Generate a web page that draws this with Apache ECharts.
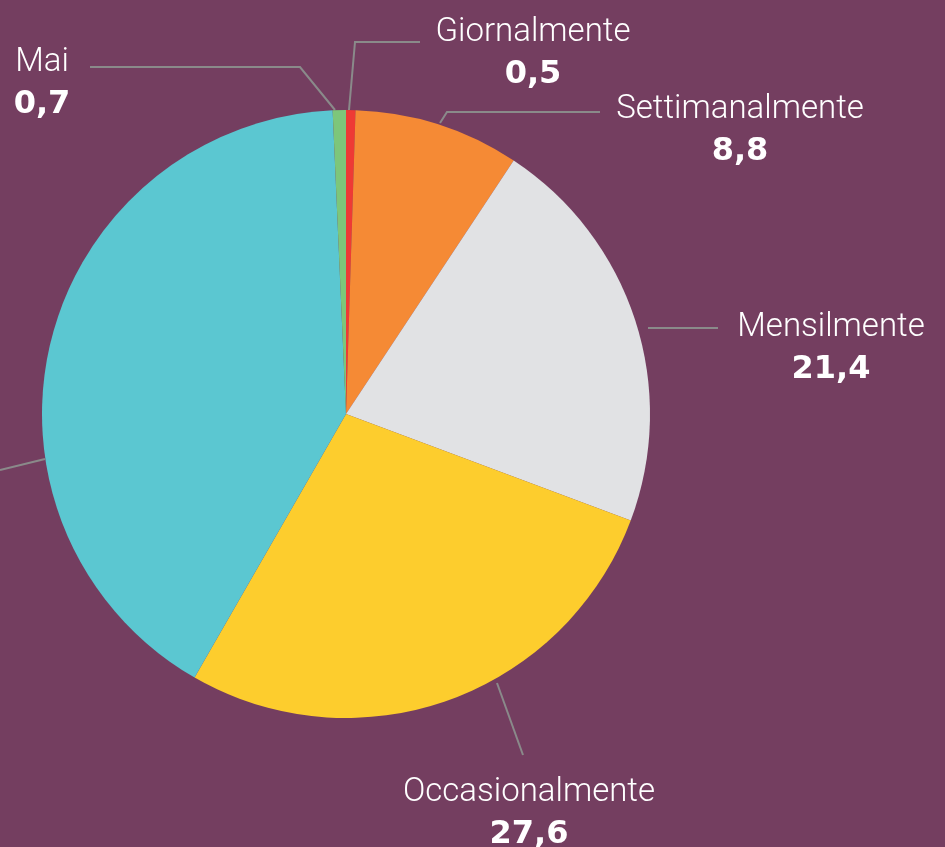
<!DOCTYPE html>
<html lang="it">

<head>
    <meta charset="UTF-8">
    <title>Frequenza</title>
    <style>
        * {
            margin: 0;
            padding: 0;
            box-sizing: border-box;
        }

        html,
        body {
            width: 100%;
            height: 100%;
            background: #743e60;
        }

        .box {
            width: 945px;
            height: 847px;
        }
    </style>
</head>

<body>
    <div class="box"></div>
</body>
<script src="https://cdn.jsdelivr.net/npm/echarts@6/dist/echarts.min.js"></script>
<script>
    // dati
    const categories = ['Giornalmente', 'Settimanalmente', 'Mensilmente', 'Occasionalmente', 'Raramente', 'Mai']
    const values = [0.5, 8.8, 21.4, 27.6, 41.0, 0.7]
    const colors = ['#ee3a35', '#f58a35', '#e1e2e4', '#fdcd2d', '#5bc7d1', '#7dc67a']

    // posizione etichette e linee guida (x centro, y alto, punti linea)
    const labelPos = [
        { x: 533, y: 12, line: [[349, 110], [355, 42], [420, 42]] },
        { x: 740, y: 89, line: [[440, 123], [447, 112], [600, 112]] },
        { x: 831, y: 307, line: [[648, 328], [718, 328]] },
        { x: 529, y: 772, line: [[497, 683], [523, 755]] },
        { x: -140, y: 440, line: [[45, 459], [0, 470]] },
        { x: 42, y: 42, line: [[335, 110], [300, 67], [90, 67]] }
    ]

    let chart = echarts.init(document.querySelector('.box'))

    const option = {
        backgroundColor: '#743e60',
        animation: false,
        series: [{
            type: 'pie',
            center: [346, 414],
            radius: 304,
            startAngle: 90,
            clockwise: true,
            avoidLabelOverlap: false,
            itemStyle: {
                borderWidth: 0
            },
            label: {
                show: true,
                position: 'outside',
                formatter: function (p) {
                    return '{n|' + p.name + '}\n{v|' + p.value.toFixed(1).replace('.', ',') + '}'
                },
                rich: {
                    n: {
                        fontFamily: 'Roboto',
                        fontWeight: 300,
                        fontSize: 33,
                        color: '#fff',
                        lineHeight: 42,
                        align: 'center'
                    },
                    v: {
                        fontFamily: 'DejaVu Sans',
                        fontWeight: 'bold',
                        fontSize: 32,
                        color: '#fff',
                        lineHeight: 42,
                        align: 'center'
                    }
                }
            },
            labelLine: {
                show: true,
                lineStyle: {
                    color: '#8a8a8a',
                    width: 2
                }
            },
            labelLayout: function (params) {
                const pos = labelPos[params.dataIndex]
                return {
                    x: pos.x,
                    y: pos.y,
                    align: 'center',
                    verticalAlign: 'top',
                    labelLinePoints: pos.line
                }
            },
            data: categories.map(function (name, i) {
                return {
                    name: name,
                    value: values[i],
                    itemStyle: { color: colors[i] }
                }
            })
        }]
    }
    chart.setOption(option)
</script>

</html>
